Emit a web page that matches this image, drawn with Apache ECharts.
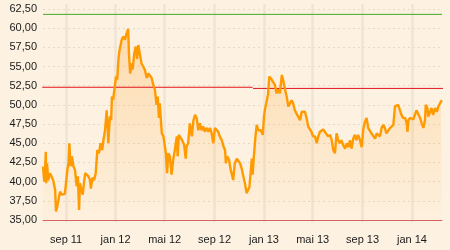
<!DOCTYPE html>
<html><head><meta charset="utf-8">
<script src="https://cdn.jsdelivr.net/npm/echarts@6/dist/echarts.min.js"></script>
<style>html,body{margin:0;padding:0;background:#fdf2e2}#c{width:450px;height:250px}</style>
</head><body><div id="c"></div>
<script>
const startDate = '2011-07-06';
const dayOffsets = [0,3,5,7,8,10,13,17,21,25,30,32,35,38,42,46,50,54,57,60,63,65,68,71,75,79,83,86,89,91,95,98,101,104,108,112,116,118,122,126,130,134,138,142,146,149,153,157,160,161,165,168,170,173,177,180,183,186,188,190,194,198,202,206,210,212,215,219,221,225,229,232,235,239,243,247,251,256,260,264,268,272,276,280,283,286,288,293,297,301,303,306,309,313,317,321,325,330,332,335,339,343,348,352,354,358,362,367,371,375,379,383,387,391,395,399,404,408,412,416,420,424,428,432,436,441,445,449,451,454,459,463,467,469,473,478,482,486,490,494,498,502,506,509,512,515,517,520,524,527,531,537,542,545,548,552,555,558,560,564,568,572,576,580,584,589,592,597,601,605,609,613,617,621,625,629,634,638,642,646,650,654,658,662,666,671,675,679,683,687,691,695,699,703,708,712,716,720,724,728,732,736,740,745,749,753,757,761,765,769,773,777,782,786,790,794,798,802,806,810,814,819,823,827,831,835,839,843,847,851,856,860,864,868,872,876,880,884,888,893,897,899,901,905,909,913,917,921,925,930,934,938,942,944,948,950,954,958,962,967,971,975,979,981,984];
const prices = [42.0,40.0,41.5,43.9,39.8,42.4,40.2,41.1,40.7,40.2,38.9,36.1,36.7,37.6,38.7,38.3,38.5,38.4,38.6,41.5,42.5,45.0,42.0,43.3,42.0,41.5,39.4,40.7,36.3,39.8,38.9,38.3,39.8,41.1,40.9,40.7,40.2,39.1,40.5,40.2,41.1,44.1,43.7,45.0,44.1,45.4,46.7,49.3,46.7,45.0,48.5,48.0,51.1,50.7,52.4,53.7,53.3,55.9,56.9,57.1,58.5,58.9,58.5,59.3,59.9,56.7,54.1,55.4,54.6,56.7,57.6,56.0,57.8,57.6,55.4,55.0,54.6,53.5,54.1,53.9,53.5,52.6,52.0,50.0,51.1,48.3,50.2,46.3,45.9,46.1,43.7,41.1,43.7,43.3,40.9,42.8,44.1,45.9,43.3,46.1,45.9,45.4,44.8,43.0,44.6,45.0,47.6,45.9,48.0,48.7,48.3,46.7,47.6,46.7,47.2,46.5,47.0,46.5,47.0,46.3,45.0,47.0,46.8,46.5,45.9,45.4,44.6,44.1,42.4,43.3,42.8,41.5,40.7,40.2,42.4,43.0,42.8,42.4,41.7,40.7,39.8,38.5,38.6,39.3,41.1,43.0,40.9,43.3,45.9,47.4,46.7,46.7,46.1,48.5,49.6,50.6,51.4,53.7,53.9,53.3,53.3,52.6,51.5,52.0,51.5,53.9,53.3,52.0,51.1,49.8,50.2,50.6,50.2,49.3,48.9,48.5,48.0,49.1,48.9,49.1,48.3,47.2,47.0,46.5,45.9,45.9,45.0,45.9,46.5,46.7,46.8,46.5,46.7,45.9,46.1,45.4,44.1,43.7,46.3,45.4,45.0,45.4,44.8,44.3,45.0,44.5,45.4,44.3,45.6,46.1,45.4,46.1,45.4,44.5,46.9,47.8,48.3,47.0,47.2,46.3,46.5,45.6,46.3,46.5,45.9,47.0,47.4,47.0,46.3,46.5,47.0,47.0,47.4,49.8,50.0,50.0,49.8,48.7,48.3,48.3,47.6,46.5,48.0,48.3,48.5,48.1,48.7,49.3,49.4,48.3,47.6,47.0,48.0,50.0,49.6,48.5,49.0,49.6,48.7,49.6,49.1,49.8,50.0,50.4,50.6];
const tickDates = ['2011-09-01','2012-01-01','2012-05-01','2012-09-01','2013-01-01','2013-05-01','2013-09-01','2014-01-01'];
const tickLabels = ['sep 11','jan 12','mai 12','sep 12','jan 13','mai 13','sep 13','jan 14'];
const targetLevel = 61.8;
const targetSpan = [0, 984];
const resistanceLevels = [52.3, 52.15];
const resistanceSpans = [[-2, 517], [518, 1003]];
const yMin = 35, yMax = 62.5, yStep = 2.5;
const xMaxDay = 984;

const DAY = 86400000;
const t0 = Date.parse(startDate + 'T00:00:00Z');
const toTs = d => t0 + d * DAY;
const series = dayOffsets.map((d, i) => [toTs(d), prices[i]]);
const tickTs = tickDates.map(s => Date.parse(s + 'T00:00:00Z'));
const labelFor = v => { const i = tickTs.indexOf(v); return i >= 0 ? tickLabels[i] : ''; };

const font = 'Liberation Sans, Arial, sans-serif';
const chart = echarts.init(document.getElementById('c'), null, {renderer: 'canvas'});
const refSeries = [];
refSeries.push({type: 'line', xAxisIndex: 1, yAxisIndex: 1, data: [[toTs(targetSpan[0]), targetLevel], [toTs(targetSpan[1]), targetLevel]],
  showSymbol: false, silent: true, clip: false, z: 3, lineStyle: {color: '#43a824', width: 1}});
resistanceLevels.forEach((lv, i) => {
  refSeries.push({type: 'line', xAxisIndex: 1, yAxisIndex: 1, data: [[toTs(resistanceSpans[i][0]), lv], [toTs(resistanceSpans[i][1]), lv]],
    showSymbol: false, silent: true, clip: false, z: 3, lineStyle: {color: '#e3141c', width: 1}});
});

chart.setOption({
  backgroundColor: '#fdf2e2',
  animation: false,
  grid: [
    {left: 43, right: 8, top: 4, bottom: 28},
    {left: 43, right: 8, top: 9, bottom: 30}
  ],
  xAxis: [
    {type: 'value', gridIndex: 0, min: toTs(0), max: toTs(xMaxDay),
      axisLine: {show: false}, axisLabel: {show: false},
      axisTick: {show: false, customValues: tickTs},
      splitLine: {show: true, lineStyle: {color: '#efe5d5', width: 2.5}}},
    {type: 'value', gridIndex: 1, min: toTs(0), max: toTs(xMaxDay),
      axisLine: {show: true, lineStyle: {color: '#d9605c', width: 1}},
      axisTick: {show: false, customValues: tickTs},
      splitLine: {show: false},
      axisLabel: {customValues: tickTs, formatter: labelFor, color: '#1a1a1a', fontSize: 11, fontFamily: font, margin: 14}}
  ],
  yAxis: [
    {type: 'value', gridIndex: 0, min: 0, max: 1, show: false, splitLine: {show: false}},
    {type: 'value', gridIndex: 1, min: yMin, max: yMax, interval: yStep,
      axisLine: {show: false}, axisTick: {show: false},
      axisLabel: {formatter: v => v.toFixed(2).replace('.', ','), color: '#1a1a1a', fontSize: 11, fontFamily: font, margin: 6},
      splitLine: {show: true, lineStyle: {color: '#e6d9c6', width: 1, type: [2, 3]}}}
  ],
  series: [
    {type: 'line', xAxisIndex: 1, yAxisIndex: 1, data: series, showSymbol: false, silent: true, z: 1,
      lineStyle: {width: 0},
      areaStyle: {color: new echarts.graphic.LinearGradient(0, 0, 0, 1, [
        {offset: 0, color: 'rgba(255,160,40,0.40)'},
        {offset: 1, color: 'rgba(255,160,40,0.03)'}])}},
    ...refSeries,
    {type: 'line', xAxisIndex: 1, yAxisIndex: 1, data: series, showSymbol: false, silent: true, z: 4,
      lineStyle: {color: '#ff9a00', width: 2.4}}
  ]
});
</script></body></html>
